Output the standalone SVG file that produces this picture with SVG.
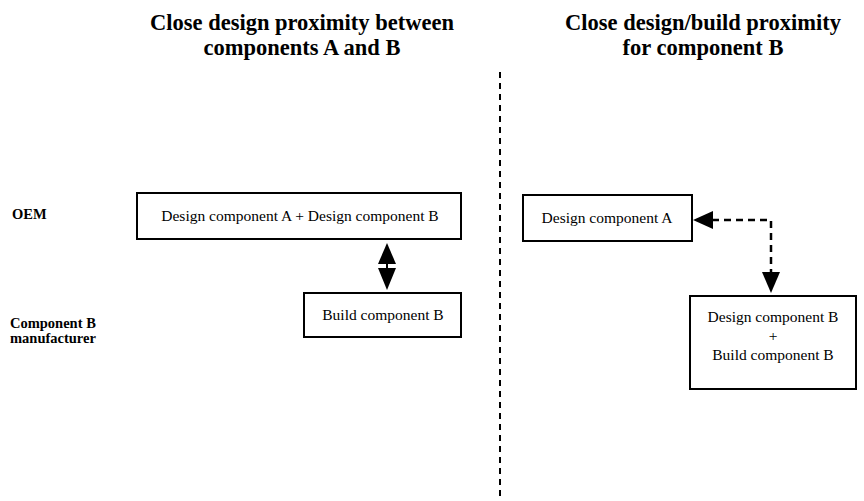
<svg xmlns="http://www.w3.org/2000/svg" width="864" height="501" viewBox="0 0 864 501">
  <style>
    text { font-family: 'Liberation Serif', 'Tinos', 'Times New Roman', 'DejaVu Serif', serif; fill: #000; }
    .title { font-weight: bold; font-size: 22.5px; text-anchor: middle; }
    .lane { font-weight: bold; font-size: 14.5px; }
    .label { font-size: 15.5px; text-anchor: middle; }
    .box { fill: #fff; stroke: #000; stroke-width: 2; }
    .dash { fill: none; stroke: #000; stroke-width: 2.5; stroke-dasharray: 7 5; }
    .head { fill: #000; stroke: none; }
  </style>

  <rect width="864" height="501" fill="#fff"/>

  <!-- column headings -->
  <text class="title" x="302" y="30">Close design proximity between</text>
  <text class="title" x="302" y="55">components A and B</text>
  <text class="title" x="703" y="30">Close design/build proximity</text>
  <text class="title" x="703" y="55">for component B</text>

  <!-- lane labels -->
  <text class="lane" x="12" y="219">OEM</text>
  <text class="lane" x="10" y="328">Component B</text>
  <text class="lane" x="10" y="343">manufacturer</text>

  <!-- divider between the two arrangements -->
  <line x1="500" y1="72" x2="500" y2="498" stroke="#000" stroke-width="2" stroke-dasharray="6 5"/>

  <g id="design-ab">
    <rect class="box" x="137" y="193" width="324" height="46"/>
    <text class="label" x="300" y="221">Design component A + Design component B</text>
  </g>

  <g id="build-b">
    <rect class="box" x="304" y="293" width="157" height="44"/>
    <text class="label" x="383" y="320">Build component B</text>
  </g>

  <g id="design-a">
    <rect class="box" x="523" y="195" width="169" height="46"/>
    <text class="label" x="607" y="223">Design component A</text>
  </g>

  <g id="design-build-b">
    <rect class="box" x="690" y="296" width="166" height="93"/>
    <text class="label" x="773" y="322">Design component B</text>
    <text class="label" x="773" y="341">+</text>
    <text class="label" x="773" y="360">Build component B</text>
  </g>

  <g id="connectors">
    <!-- solid two-way link between OEM design and component B build -->
    <polygon class="head" points="387,243 378,264 396,264"/>
    <line x1="387" y1="263" x2="387" y2="270" stroke="#000" stroke-width="2"/>
    <polygon class="head" points="378,268 396,268 387,290"/>

    <!-- dashed two-way link between design A and design/build B -->
    <path class="dash" d="M712,220 H771 V273"/>
    <polygon class="head" points="693,220 713,211 713,229"/>
    <polygon class="head" points="762,272 780,272 771,293"/>
  </g>
</svg>
